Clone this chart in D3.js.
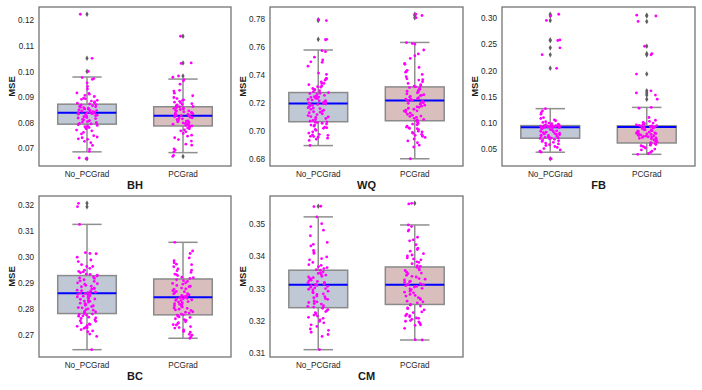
<!DOCTYPE html>
<html>
<head>
<meta charset="utf-8">
<script src="https://cdn.jsdelivr.net/npm/d3@7"></script>
<style>
  body { margin: 0; background: #fff; }
  svg { display: block; font-family: "Liberation Sans", Arial, sans-serif; }
</style>
</head>
<body>
<div id="container"></div>
<script>
/* DATA */
const categories = ["No_PCGrad", "PCGrad"];
const panelNames = ["BH", "WQ", "FB", "BC", "CM"];

// box stats per category: [q1, median, q3, lowerWhisker, upperWhisker]
const bhStats = [[0.0794, 0.0839, 0.0872, 0.0686, 0.0978], [0.0787, 0.0827, 0.0862, 0.0683, 0.0970]];
const wqStats = [[0.7065, 0.7195, 0.7273, 0.6895, 0.7576], [0.7072, 0.7216, 0.7313, 0.6801, 0.7630]];
const fbStats = [[0.0710, 0.0918, 0.0950, 0.0443, 0.1273], [0.0619, 0.0922, 0.0945, 0.0403, 0.1297]];
const bcStats = [[0.2781, 0.2859, 0.2927, 0.2642, 0.3124], [0.2776, 0.2844, 0.2914, 0.2686, 0.3055]];
const cmStats = [[0.3241, 0.3312, 0.3357, 0.3111, 0.3522], [0.3251, 0.3312, 0.3367, 0.3141, 0.3497]];

// outliers drawn as diamonds on the box centre
const bhOutliers = [[0.1223, 0.1051, 0.1000, 0.0659], [0.1137, 0.1033, 0.0982, 0.0668]];
const wqOutliers = [[0.7792, 0.7786, 0.7652], [0.7831, 0.7822, 0.7806]];
const fbOutliers = [[0.3072, 0.3041, 0.2953, 0.2582, 0.2571, 0.2431, 0.2301, 0.2042, 0.0318],
                    [0.3053, 0.3038, 0.2934, 0.2462, 0.2321, 0.2298, 0.1932, 0.1612, 0.1573, 0.1531, 0.1452]];
const bcOutliers = [[0.3205, 0.3192], []];
const cmOutliers = [[0.3555], [0.3564]];

// strip points (one per run)
const bhPoints = [
  [0.1223, 0.1051, 0.1000, 0.0659, 0.0976, 0.0972, 0.0969, 0.0955, 0.0941, 0.0931, 0.0916, 0.0914, 0.0911, 0.0906, 0.0902,
   0.0896, 0.0893, 0.0891, 0.0887, 0.0884, 0.0881, 0.0878, 0.0876, 0.0873, 0.0870, 0.0869, 0.0866, 0.0864, 0.0862, 0.0860,
   0.0858, 0.0857, 0.0855, 0.0853, 0.0852, 0.0850, 0.0849, 0.0847, 0.0846, 0.0844, 0.0843, 0.0841, 0.0840, 0.0839, 0.0838,
   0.0837, 0.0835, 0.0833, 0.0832, 0.0829, 0.0827, 0.0825, 0.0823, 0.0820, 0.0818, 0.0816, 0.0813, 0.0811, 0.0808, 0.0806,
   0.0804, 0.0802, 0.0800, 0.0799, 0.0797, 0.0795, 0.0792, 0.0789, 0.0786, 0.0784, 0.0781, 0.0779, 0.0776, 0.0771, 0.0768,
   0.0762, 0.0756, 0.0749, 0.0744, 0.0741, 0.0737, 0.0735, 0.0727, 0.0722, 0.0711, 0.0697, 0.0688, 0.0662],
  [0.1137, 0.1033, 0.1031, 0.0982, 0.0668, 0.0977, 0.0968, 0.0963, 0.0950, 0.0926, 0.0923, 0.0915, 0.0905, 0.0898, 0.0894,
   0.0889, 0.0887, 0.0883, 0.0880, 0.0878, 0.0874, 0.0871, 0.0869, 0.0866, 0.0863, 0.0862, 0.0859, 0.0857, 0.0856, 0.0853,
   0.0851, 0.0848, 0.0846, 0.0845, 0.0842, 0.0840, 0.0838, 0.0837, 0.0834, 0.0832, 0.0830, 0.0829, 0.0827, 0.0826, 0.0823,
   0.0821, 0.0819, 0.0818, 0.0815, 0.0813, 0.0811, 0.0809, 0.0807, 0.0806, 0.0803, 0.0801, 0.0799, 0.0797, 0.0795, 0.0794,
   0.0791, 0.0789, 0.0787, 0.0785, 0.0782, 0.0779, 0.0776, 0.0772, 0.0768, 0.0764, 0.0758, 0.0751, 0.0747, 0.0741, 0.0734,
   0.0728, 0.0716, 0.0712, 0.0698, 0.0693, 0.0686, 0.0672]
];
const wqPoints = [
  [0.7792, 0.7786, 0.7652, 0.7649, 0.7571, 0.7564, 0.7525, 0.7505, 0.7492, 0.7488, 0.7461, 0.7412, 0.7402, 0.7374, 0.7361,
   0.7349, 0.7338, 0.7329, 0.7321, 0.7311, 0.7302, 0.7293, 0.7286, 0.7279, 0.7272, 0.7266, 0.7259, 0.7253, 0.7248, 0.7244,
   0.7238, 0.7233, 0.7229, 0.7224, 0.7219, 0.7214, 0.7209, 0.7204, 0.7199, 0.7196, 0.7193, 0.7188, 0.7182, 0.7177, 0.7171,
   0.7165, 0.7159, 0.7153, 0.7147, 0.7141, 0.7136, 0.7129, 0.7122, 0.7116, 0.7109, 0.7102, 0.7095, 0.7088, 0.7081, 0.7074,
   0.7069, 0.7064, 0.7059, 0.7054, 0.7048, 0.7041, 0.7033, 0.7026, 0.7018, 0.7011, 0.7004, 0.6993, 0.6984, 0.6975, 0.6968,
   0.6961, 0.6955, 0.6948, 0.6941, 0.6932, 0.6896, 0.7372, 0.7338, 0.7315, 0.7296, 0.7268, 0.7241, 0.7215, 0.7191, 0.7162,
   0.7133, 0.7099, 0.7062, 0.7043, 0.7022, 0.6972, 0.6959],
  [0.7831, 0.7822, 0.7806, 0.7628, 0.7622, 0.7618, 0.7576, 0.7548, 0.7535, 0.7516, 0.7481, 0.7474, 0.7452, 0.7431, 0.7418,
   0.7402, 0.7386, 0.7371, 0.7362, 0.7349, 0.7338, 0.7329, 0.7321, 0.7314, 0.7308, 0.7302, 0.7296, 0.7289, 0.7282, 0.7276,
   0.7271, 0.7264, 0.7258, 0.7251, 0.7246, 0.7241, 0.7236, 0.7229, 0.7224, 0.7219, 0.7216, 0.7212, 0.7207, 0.7201, 0.7196,
   0.7189, 0.7183, 0.7176, 0.7168, 0.7161, 0.7154, 0.7148, 0.7141, 0.7134, 0.7126, 0.7118, 0.7111, 0.7103, 0.7096, 0.7089,
   0.7081, 0.7074, 0.7069, 0.7061, 0.7052, 0.7043, 0.7034, 0.7027, 0.7021, 0.7015, 0.7008, 0.6998, 0.6989, 0.6982, 0.6975,
   0.6968, 0.6961, 0.6953, 0.6942, 0.6928, 0.6915, 0.6898, 0.6885, 0.6801, 0.7423, 0.7364, 0.7318, 0.7285, 0.7253, 0.7226,
   0.7198, 0.7171, 0.7143, 0.7105, 0.7076, 0.7048, 0.7017, 0.6992, 0.6966]
];
const fbPoints = [
  [0.3072, 0.3041, 0.2953, 0.2582, 0.2571, 0.2431, 0.2301, 0.2042, 0.0318, 0.1273, 0.1232, 0.1195, 0.1168, 0.1102, 0.1085,
   0.1061, 0.1042, 0.1025, 0.1011, 0.0998, 0.0987, 0.0978, 0.0969, 0.0962, 0.0956, 0.0951, 0.0947, 0.0944, 0.0941, 0.0938,
   0.0935, 0.0932, 0.0929, 0.0927, 0.0925, 0.0923, 0.0921, 0.0919, 0.0918, 0.0915, 0.0908, 0.0899, 0.0887, 0.0874, 0.0862,
   0.0851, 0.0842, 0.0833, 0.0824, 0.0815, 0.0806, 0.0798, 0.0791, 0.0784, 0.0776, 0.0768, 0.0761, 0.0754, 0.0746, 0.0739,
   0.0731, 0.0724, 0.0718, 0.0712, 0.0706, 0.0698, 0.0689, 0.0675, 0.0661, 0.0648, 0.0632, 0.0618, 0.0601, 0.0585, 0.0571,
   0.0552, 0.0535, 0.0512, 0.0486, 0.0461, 0.0443],
  [0.3053, 0.3038, 0.2934, 0.2462, 0.2321, 0.2298, 0.1932, 0.1612, 0.1573, 0.1531, 0.1452, 0.1297, 0.1281, 0.1104, 0.1052,
   0.1031, 0.1012, 0.0998, 0.0985, 0.0972, 0.0963, 0.0955, 0.0949, 0.0944, 0.0939, 0.0934, 0.0930, 0.0926, 0.0923, 0.0921,
   0.0918, 0.0912, 0.0905, 0.0896, 0.0887, 0.0878, 0.0869, 0.0861, 0.0853, 0.0846, 0.0839, 0.0832, 0.0825, 0.0818, 0.0812,
   0.0806, 0.0799, 0.0793, 0.0787, 0.0781, 0.0775, 0.0769, 0.0763, 0.0757, 0.0751, 0.0744, 0.0738, 0.0731, 0.0724, 0.0716,
   0.0708, 0.0699, 0.0688, 0.0676, 0.0663, 0.0651, 0.0638, 0.0624, 0.0615, 0.0607, 0.0598, 0.0589, 0.0578, 0.0566, 0.0553,
   0.0539, 0.0521, 0.0502, 0.0486, 0.0462, 0.0441, 0.0418, 0.0403]
];
const bcPoints = [
  [0.3205, 0.3192, 0.3124, 0.3015, 0.3011, 0.2998, 0.2981, 0.2969, 0.2962, 0.2955, 0.2948, 0.2943, 0.2938, 0.2933, 0.2929,
   0.2925, 0.2921, 0.2916, 0.2911, 0.2905, 0.2899, 0.2894, 0.2889, 0.2884, 0.2879, 0.2875, 0.2871, 0.2867, 0.2863, 0.2860,
   0.2858, 0.2855, 0.2852, 0.2848, 0.2845, 0.2841, 0.2837, 0.2833, 0.2829, 0.2825, 0.2821, 0.2817, 0.2813, 0.2808, 0.2803,
   0.2799, 0.2794, 0.2789, 0.2785, 0.2781, 0.2778, 0.2775, 0.2771, 0.2767, 0.2762, 0.2757, 0.2751, 0.2745, 0.2739, 0.2734,
   0.2729, 0.2724, 0.2719, 0.2711, 0.2702, 0.2693, 0.2642, 0.2962, 0.2941, 0.2932, 0.2918, 0.2907, 0.2896, 0.2886, 0.2877,
   0.2869, 0.2861, 0.2856, 0.2849, 0.2843, 0.2836, 0.2828, 0.2819, 0.2811, 0.2804, 0.2796, 0.2787, 0.2779, 0.2772, 0.2764,
   0.2753, 0.2741, 0.2732, 0.2726, 0.2714, 0.3012, 0.2987],
  [0.3055, 0.3022, 0.3012, 0.2995, 0.2984, 0.2976, 0.2969, 0.2961, 0.2953, 0.2946, 0.2939, 0.2933, 0.2927, 0.2921, 0.2916,
   0.2911, 0.2905, 0.2899, 0.2894, 0.2889, 0.2884, 0.2879, 0.2874, 0.2869, 0.2865, 0.2861, 0.2857, 0.2853, 0.2849, 0.2846,
   0.2843, 0.2840, 0.2837, 0.2834, 0.2831, 0.2827, 0.2823, 0.2819, 0.2815, 0.2811, 0.2806, 0.2802, 0.2798, 0.2793, 0.2788,
   0.2783, 0.2779, 0.2775, 0.2771, 0.2766, 0.2761, 0.2755, 0.2749, 0.2743, 0.2737, 0.2731, 0.2725, 0.2718, 0.2709, 0.2698,
   0.2692, 0.2686, 0.2971, 0.2948, 0.2931, 0.2919, 0.2908, 0.2897, 0.2886, 0.2876, 0.2866, 0.2858, 0.2851, 0.2844, 0.2838,
   0.2832, 0.2825, 0.2817, 0.2809, 0.2801, 0.2795, 0.2786, 0.2776, 0.2768, 0.2758, 0.2746, 0.2738, 0.2727, 0.2712, 0.2701]
];
const cmPoints = [
  [0.3555, 0.3554, 0.3522, 0.3501, 0.3481, 0.3464, 0.3443, 0.3432, 0.3418, 0.3409, 0.3398, 0.3389, 0.3381, 0.3374, 0.3368,
   0.3362, 0.3357, 0.3352, 0.3347, 0.3342, 0.3338, 0.3334, 0.3330, 0.3326, 0.3322, 0.3319, 0.3316, 0.3313, 0.3310, 0.3307,
   0.3304, 0.3300, 0.3296, 0.3292, 0.3287, 0.3282, 0.3277, 0.3272, 0.3267, 0.3262, 0.3257, 0.3252, 0.3247, 0.3243, 0.3239,
   0.3235, 0.3229, 0.3222, 0.3215, 0.3208, 0.3199, 0.3188, 0.3175, 0.3165, 0.3152, 0.3111, 0.3492, 0.3437, 0.3412, 0.3393,
   0.3372, 0.3365, 0.3359, 0.3349, 0.3344, 0.3336, 0.3331, 0.3324, 0.3318, 0.3314, 0.3309, 0.3302, 0.3298, 0.3289, 0.3284,
   0.3275, 0.3269, 0.3259, 0.3254, 0.3245, 0.3241, 0.3232, 0.3226, 0.3218, 0.3211, 0.3203, 0.3194, 0.3183, 0.3171, 0.3158],
  [0.3564, 0.3562, 0.3497, 0.3492, 0.3478, 0.3459, 0.3448, 0.3436, 0.3425, 0.3416, 0.3408, 0.3401, 0.3395, 0.3389, 0.3383,
   0.3377, 0.3371, 0.3366, 0.3361, 0.3356, 0.3351, 0.3346, 0.3341, 0.3336, 0.3331, 0.3327, 0.3323, 0.3319, 0.3315, 0.3312,
   0.3309, 0.3305, 0.3301, 0.3297, 0.3292, 0.3287, 0.3282, 0.3277, 0.3272, 0.3266, 0.3261, 0.3256, 0.3251, 0.3246, 0.3240,
   0.3234, 0.3228, 0.3221, 0.3213, 0.3205, 0.3197, 0.3188, 0.3177, 0.3142, 0.3141, 0.3482, 0.3451, 0.3421, 0.3404, 0.3392,
   0.3381, 0.3369, 0.3358, 0.3348, 0.3338, 0.3329, 0.3321, 0.3313, 0.3307, 0.3299, 0.3289, 0.3279, 0.3269, 0.3259, 0.3249,
   0.3238, 0.3226, 0.3216, 0.3208, 0.3199, 0.3186, 0.3193, 0.3209, 0.3201, 0.3216]
];

const bhTicks = [0.07, 0.08, 0.09, 0.10, 0.11, 0.12];
const wqTicks = [0.68, 0.70, 0.72, 0.74, 0.76, 0.78];
const fbTicks = [0.05, 0.10, 0.15, 0.20, 0.25, 0.30];
const bcTicks = [0.27, 0.28, 0.29, 0.30, 0.31, 0.32];
const cmTicks = [0.31, 0.32, 0.33, 0.34, 0.35];

/* LAYOUT */
const width = 702, height = 390;
const boxFill = ["#c0c8d6", "#d9bebe"];

// frame rectangles for the five panels
const frames = [
  { x: 39, y: 7, w: 192, h: 159 },
  { x: 270, y: 7, w: 193, h: 159 },
  { x: 502, y: 7, w: 193, h: 159 },
  { x: 39, y: 196, w: 192, h: 161 },
  { x: 270, y: 196, w: 193, h: 161 }
];

const panels = [
  { name: panelNames[0], stats: bhStats, outliers: bhOutliers, points: bhPoints, ticks: bhTicks },
  { name: panelNames[1], stats: wqStats, outliers: wqOutliers, points: wqPoints, ticks: wqTicks },
  { name: panelNames[2], stats: fbStats, outliers: fbOutliers, points: fbPoints, ticks: fbTicks },
  { name: panelNames[3], stats: bcStats, outliers: bcOutliers, points: bcPoints, ticks: bcTicks },
  { name: panelNames[4], stats: cmStats, outliers: cmOutliers, points: cmPoints, ticks: cmTicks }
];

const svg = d3.select("#container")
  .append("svg")
  .attr("width", width)
  .attr("height", height);

// deterministic scatter offset for the strip points (position only, in -1..1)
const jitter = i => {
  const s = Math.sin(i * 12.9898 + 78.233) * 43758.5453;
  return (s - Math.floor(s)) * 2 - 1;
};

panels.forEach((p, k) => {
  const f = frames[k];
  const g = svg.append("g").attr("transform", `translate(${f.x},${f.y})`);

  const all = p.points.flat();
  const [lo, hi] = d3.extent(all);
  const pad = (hi - lo) * 0.05;

  const y = d3.scaleLinear().domain([lo - pad, hi + pad]).range([f.h, 0]);
  const x = d3.scaleBand().domain(categories).range([0, f.w]);
  const bw = x.bandwidth() * 0.61;
  const cap = bw / 2;

  // y axis labels only
  const yAxis = d3.axisLeft(y).tickValues(p.ticks).tickSize(0).tickPadding(5).tickFormat(d3.format(".2f"));
  g.append("g").call(yAxis)
    .call(a => a.select(".domain").remove())
    .selectAll("text").attr("font-size", 8.2).attr("fill", "#262626")
    .attr("font-family", "Liberation Sans, Arial, sans-serif");

  const xAxis = d3.axisBottom(x).tickSize(0).tickPadding(5);
  g.append("g").attr("transform", `translate(0,${f.h})`).call(xAxis)
    .call(a => a.select(".domain").remove())
    .selectAll("text").attr("font-size", 8.2).attr("fill", "#262626")
    .attr("font-family", "Liberation Sans, Arial, sans-serif");

  categories.forEach((c, ci) => {
    const [q1, med, q3, wlo, whi] = p.stats[ci];
    const cx = x(c) + x.bandwidth() / 2;
    const bg = g.append("g");

    // whiskers
    bg.append("line").attr("x1", cx).attr("x2", cx).attr("y1", y(q3)).attr("y2", y(whi))
      .attr("stroke", "#8f8f8f").attr("stroke-width", 1.5);
    bg.append("line").attr("x1", cx).attr("x2", cx).attr("y1", y(q1)).attr("y2", y(wlo))
      .attr("stroke", "#8f8f8f").attr("stroke-width", 1.5);
    [whi, wlo].forEach(v => {
      bg.append("line").attr("x1", cx - cap / 2).attr("x2", cx + cap / 2).attr("y1", y(v)).attr("y2", y(v))
        .attr("stroke", "#8f8f8f").attr("stroke-width", 1.5);
    });

    bg.append("rect")
      .attr("x", cx - bw / 2).attr("width", bw)
      .attr("y", y(q3)).attr("height", y(q1) - y(q3))
      .attr("fill", boxFill[ci]).attr("stroke", "#8a8a8a").attr("stroke-width", 1.5);

    bg.append("line").attr("x1", cx - bw / 2).attr("x2", cx + bw / 2).attr("y1", y(med)).attr("y2", y(med))
      .attr("stroke", "#0000ff").attr("stroke-width", 2);

    // outlier diamonds
    bg.selectAll("path.fl").data(p.outliers[ci]).join("path")
      .attr("class", "fl")
      .attr("d", d3.symbol(d3.symbolDiamond, 9))
      .attr("transform", d => `translate(${cx},${y(d)})`)
      .attr("fill", "#5f5f5f");

    // strip points
    bg.selectAll("circle").data(p.points[ci]).join("circle")
      .attr("cx", (d, i) => cx + jitter(i + ci * 131 + k * 977) * 10.5)
      .attr("cy", d => y(d))
      .attr("r", 1.4)
      .attr("fill", "#ff00ff");
  });

  // frame
  g.append("rect").attr("width", f.w).attr("height", f.h)
    .attr("fill", "none").attr("stroke", "#6e6e6e").attr("stroke-width", 1.25);

  g.append("text")
    .attr("transform", `translate(-27,${f.h / 2}) rotate(-90)`)
    .attr("text-anchor", "middle").attr("dy", "0.35em")
    .attr("font-size", 9.5).attr("font-weight", "bold").attr("fill", "#1a1a1a")
    .text("MSE");

  g.append("text")
    .attr("x", f.w / 2).attr("y", f.h + 22.5)
    .attr("text-anchor", "middle")
    .attr("font-size", 11).attr("font-weight", "bold").attr("fill", "#1a1a1a")
    .text(p.name);
});
</script>
</body>
</html>
